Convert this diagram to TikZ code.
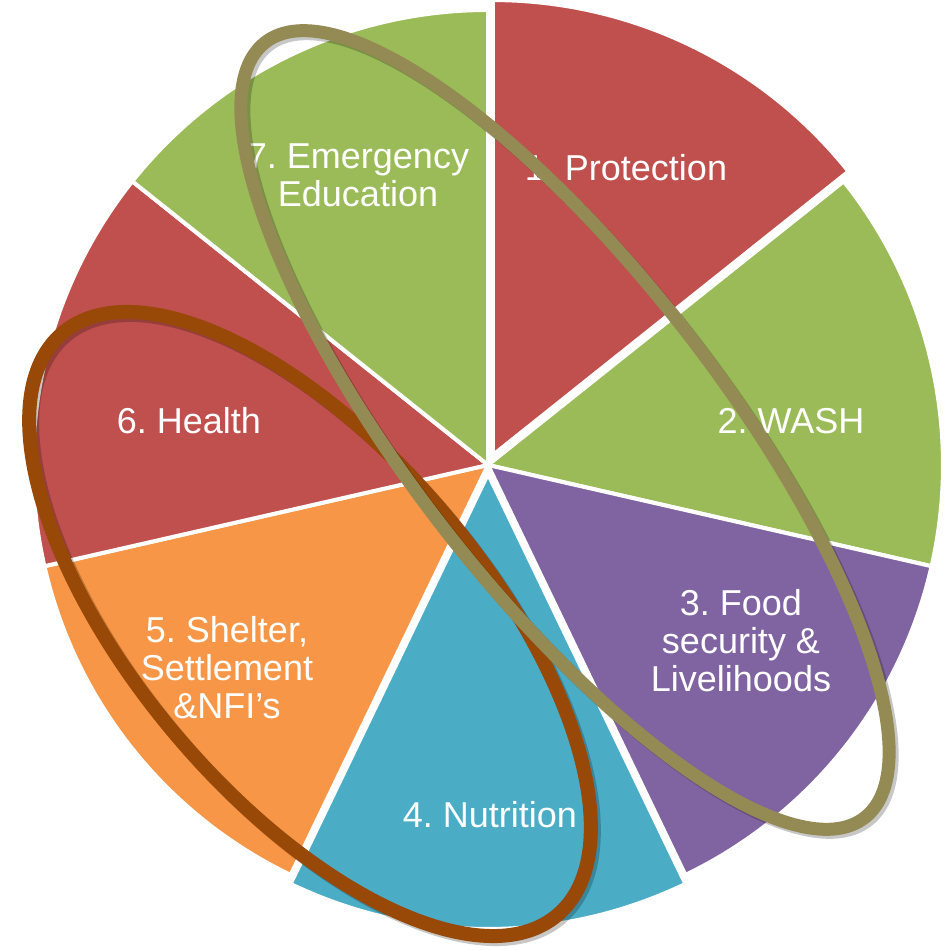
\documentclass[tikz,border=0pt]{standalone}
\usepackage{fontspec}
\setmainfont{Liberation Sans}
\frenchspacing
\definecolor{pred}{HTML}{C0504D}
\definecolor{pgreen}{HTML}{9BBB59}
\definecolor{ppurple}{HTML}{8064A2}
\definecolor{pteal}{HTML}{4BACC6}
\definecolor{porange}{HTML}{F79646}
\definecolor{olivering}{HTML}{948A54}
\definecolor{brownring}{HTML}{984807}
\begin{document}
\begin{tikzpicture}[x=1pt,y=1pt,
  slice/.style={draw=white, line width=4, line join=round},
  lbl/.style={text=white, font=\fontsize{36}{38}\selectfont, align=center, inner sep=0pt},
  ringshadow/.style={draw=black, opacity=0.22},
  ring/.style={line width=13}]
\useasboundingbox (0,0) rectangle (949,950);
\def\R{455}
\coordinate (C) at (488,485);
% pie slices (7 equal parts, clockwise from top)
\fill[pred, slice] ([shift={(4.8,9.9)}]C) -- ++(90:\R) arc[start angle=90, end angle=38.571, radius=\R] -- cycle;
\fill[pgreen, slice] (C) -- ++(38.571:\R) arc[start angle=38.571, end angle=-12.857, radius=\R] -- cycle;
\fill[ppurple, slice] (C) -- ++(-12.857:\R) arc[start angle=-12.857, end angle=-64.286, radius=\R] -- cycle;
\fill[pteal, slice] ([shift={(0,-9)}]C) -- ++(-64.286:\R) arc[start angle=-64.286, end angle=-115.714, radius=\R] -- cycle;
\fill[porange, slice] (C) -- ++(-115.714:\R) arc[start angle=-115.714, end angle=-167.143, radius=\R] -- cycle;
\fill[pred, slice] (C) -- ++(-167.143:\R) arc[start angle=-167.143, end angle=-218.571, radius=\R] -- cycle;
\fill[pgreen, slice] (C) -- ++(-218.571:\R) arc[start angle=-218.571, end angle=-270, radius=\R] -- cycle;
% labels
\node[lbl] (l7) at (358,775) {7. Emergency\\Education};
\node[lbl] (l1) at (626,782) {1. Protection};
\node[lbl] (l2) at (791,529) {2. WASH};
\node[lbl] (l3) at (741,309) {3. Food\\security \&\\Livelihoods};
\node[lbl] (l4) at (490,135) {4. Nutrition};
\node[lbl] (l5) at (227,282) {5. Shelter,\\Settlement\\\&NFI’s};
\node[lbl] (l6) at (189,529) {6. Health};
% rings
\draw[ringshadow, line width=14, rotate around={-49.6:(313,323)}] (313,323) ellipse[x radius=382, y radius=174];
\draw[brownring, ring, line width=14, rotate around={-49.6:(310,326)}] (310,326) ellipse[x radius=382, y radius=174];
\draw[ringshadow, line width=13, rotate around={-52.3:(568,517)}] (568,517) ellipse[x radius=490, y radius=156];
\draw[olivering, ring, rotate around={-52.3:(565,520)}] (565,520) ellipse[x radius=490, y radius=156];
\end{tikzpicture}
\end{document}
